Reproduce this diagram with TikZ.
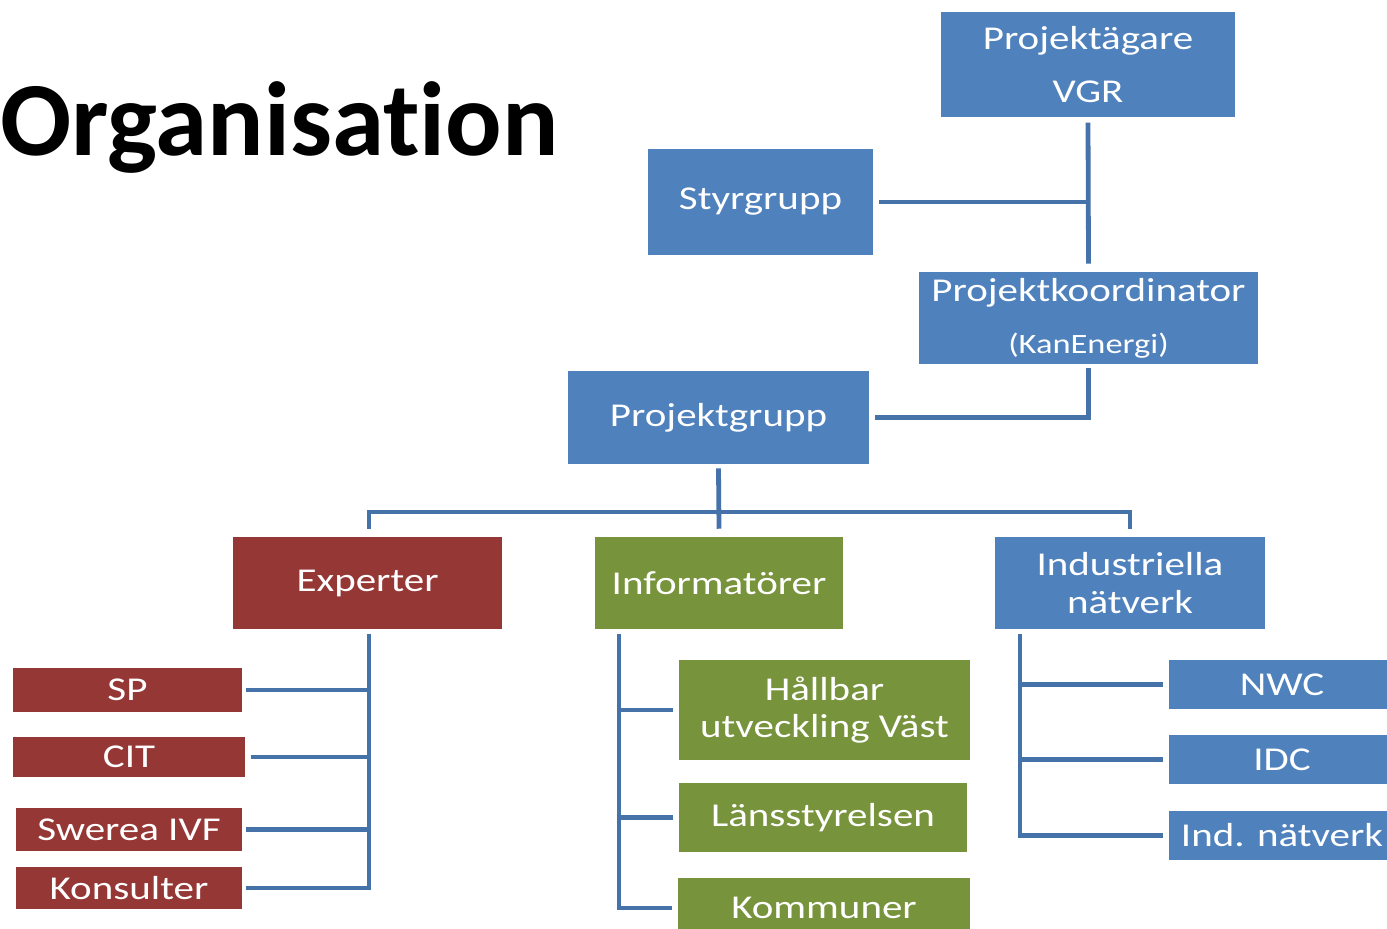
\documentclass[tikz,border=0pt]{standalone}
\usepackage{fontspec}
\setmainfont{Carlito}
\newfontfamily\boxfont{Carlito}[FakeStretch=1.23]
\newfontfamily\titlefont{Carlito}[Ligatures=NoCommon]
\definecolor{cblue}{HTML}{4F81BD}
\definecolor{cred}{HTML}{953735}
\definecolor{cgreen}{HTML}{77933C}
\definecolor{cline}{HTML}{4672AA}
\tikzset{
  bx/.style 2 args={rectangle, inner sep=0pt, text=white, align=center,
    minimum width=#1*0.75pt, minimum height=#2*0.75pt,
    font=\boxfont\fontsize{25}{28}\selectfont},
  conn/.style={draw=cline, line width=3.6pt},
}
\begin{document}
\begin{tikzpicture}[x=0.75pt,y=-0.75pt]
\useasboundingbox (0,0) rectangle (1387,928);
% title
\node[anchor=base west, inner sep=0pt, font=\titlefont\bfseries\fontsize{79}{90}\selectfont] (title) at (0,155) {Organisation};
% top boxes
\node[bx={294}{105}, fill=cblue, font=\boxfont\fontsize{25}{40}\selectfont] (vgr) at (1088,64.5) {Projektägare\\VGR};
\node[bx={225}{106}, fill=cblue] (styr) at (760.5,202) {Styrgrupp};
\node[bx={339}{92}, fill=cblue] (koord) at (1088.5,318) {Projektkoordinator\\[11pt]{\fontsize{21}{24}\selectfont(KanEnergi)}};
\node[bx={301}{93}, fill=cblue] (pgrupp) at (718.5,417.5) {Projektgrupp};
% second level
\node[bx={269}{92}, fill=cred] (exp) at (367.5,583) {Experter};
\node[bx={248}{92}, fill=cgreen] (info) at (719,583) {Informatörer};
\node[bx={270}{92}, fill=cblue] (ind) at (1130,583) {Industriella\\nätverk};
% experter children
\node[bx={229}{44}, fill=cred] (sp) at (127.5,690) {SP};
\node[bx={232}{40}, fill=cred] (cit) at (129,757) {CIT};
\node[bx={226}{43}, fill=cred] (swe) at (129,829.5) {Swerea IVF};
\node[bx={226}{42}, fill=cred] (kons) at (129,888) {Konsulter};
% informatorer children
\node[bx={291}{100}, fill=cgreen] (hall) at (824.5,710) {Hållbar\\utveckling Väst};
\node[bx={288}{69}, fill=cgreen] (lans) at (823,817.5) {Länsstyrelsen};
\node[bx={292}{60}, fill=cgreen] (komm) at (824,908) {Kommuner};
% industriella children
\node[bx={226}{49}, fill=cblue] (nwc) at (1282,684.5) {NWC};
\node[bx={226}{49}, fill=cblue] (idc) at (1282,759.5) {IDC};
\node[bx={226}{49}, fill=cblue] (indn) at (1282,835.5) {Ind. nätverk};
% connectors top
\draw[conn] ([yshift=-4pt]vgr.south) -- ([yshift=6pt]koord.north);
\draw[conn] ([xshift=4pt]styr.east) -- (styr.east -| vgr.south);
\draw[conn] ([yshift=-3pt]koord.south) |- ([xshift=4pt]pgrupp.east);
% bus
\coordinate (bus) at (719,512);
\draw[conn] ([yshift=-3pt]pgrupp.south) -- ([yshift=6pt]info.north);
\draw[conn] ([xshift=1.1pt,yshift=6pt]exp.north) |- (bus) -| ([yshift=6pt]ind.north);
% experter
\coordinate (ebus) at (369,634);
\draw[conn] (ebus) |- ([xshift=3pt]kons.east);
\draw[conn] ([xshift=3pt]sp.east) -- (sp.east -| ebus);
\draw[conn] ([xshift=4pt]cit.east) -- (cit.east -| ebus);
\draw[conn] ([xshift=3pt]swe.east) -- (swe.east -| ebus);
% informatorer
\coordinate (ibus) at (619,634);
\draw[conn] (ibus) |- ([xshift=-4pt]komm.west);
\draw[conn] ([xshift=-4pt]hall.west) -- (hall.west -| ibus);
\draw[conn] ([xshift=-4pt]lans.west) -- (lans.west -| ibus);
% industriella
\coordinate (nbus) at (1020,634);
\draw[conn] (nbus) |- ([xshift=-4pt]indn.west);
\draw[conn] ([xshift=-4pt]nwc.west) -- (nwc.west -| nbus);
\draw[conn] ([xshift=-4pt]idc.west) -- (idc.west -| nbus);
\end{tikzpicture}
\end{document}
